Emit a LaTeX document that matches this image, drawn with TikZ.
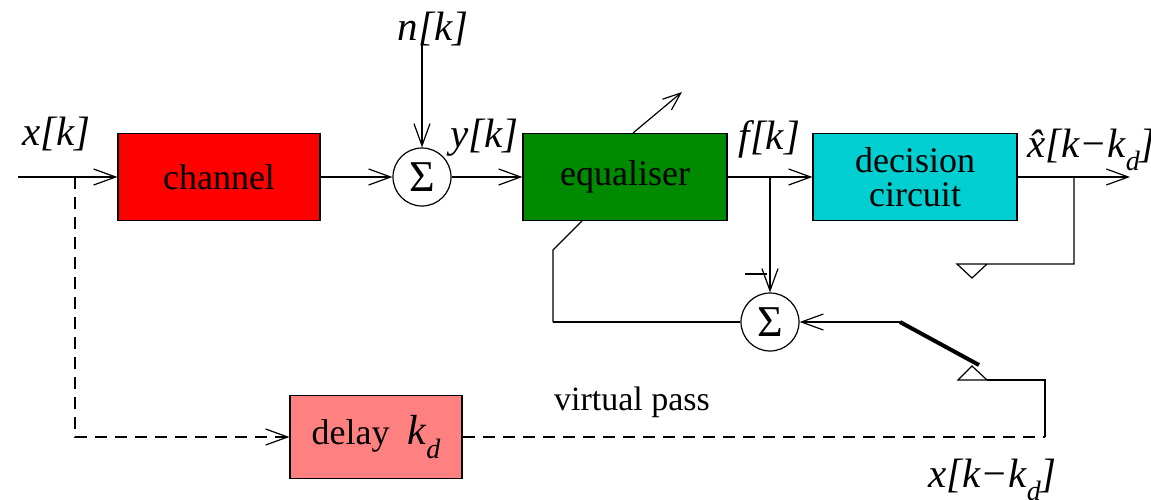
\documentclass[tikz,border=0pt]{standalone}
\usepackage{fontspec}
\setmainfont{Liberation Serif}
\usetikzlibrary{arrows.meta}
% lowered subscript "d" as in k_d
\newcommand\mysubd{\raisebox{-0.32em}{\fontsize{28}{28}\selectfont d}}
\begin{document}
\begin{tikzpicture}[x=1pt,y=-1pt,
  line width=1.2pt,
  >={Straight Barb[length=22pt,width=16pt,line width=1.2pt]},
  blockbox/.style={draw, line width=1.2pt, inner sep=0pt,
    font=\fontsize{36}{36}\selectfont, align=center},
  sumnode/.style={circle, draw, fill=white, minimum size=58pt, inner sep=0pt,
    font=\fontsize{44}{44}\selectfont},
  lbl/.style={font=\fontsize{41}{41}\selectfont\itshape, inner sep=0pt},
  plain/.style={font=\fontsize{34}{34}\selectfont, inner sep=0pt},
  dashline/.style={dash pattern=on 12pt off 8pt}]
\useasboundingbox (0,0) rectangle (1151,499);

% feedback line of the adaptation path (partly hidden by the equaliser)
\draw (553,322) -- (553,250) -- (582,221);

% blocks
\node[blockbox, fill=red, minimum width=202pt, minimum height=87pt] (chan) at (219,177) {channel};
\node[blockbox, fill={rgb,255:red,0;green,138;blue,0}, minimum width=204pt, minimum height=87pt] (eq) at (625,177) {equaliser};
\node[blockbox, fill={rgb,255:red,0;green,206;blue,209}, minimum width=204pt, minimum height=87pt, text depth=0pt] (dec) at (915,177) {decision\\[-2pt]circuit};
\node[blockbox, fill={rgb,255:red,255;green,128;blue,128}, minimum width=172pt, minimum height=83pt] (delay) at (376,437)
  {delay~~{\fontsize{42}{42}\selectfont\itshape k\mysubd}};

% summing junctions
\node[sumnode] (sum1) at (422,177) {Σ};
\node[sumnode] (sum2) at (770,322) {Σ};

% coordinates of free ends and branch points
\coordinate (xin) at (18,177);
\coordinate (tapin) at (75,177);
\coordinate (noise) at (422,45);
\coordinate (tapf) at (770,177);
\coordinate (xout) at (1130,177);
\coordinate (tapout) at (1074,177);
\coordinate (swpivot) at (900,322);
\coordinate (swend) at (979,365);
\coordinate (adapt) at (682,92);

% forward path
\draw[->] (xin) -- (chan.west);
\draw[->] (chan.east) -- (sum1.west);
\draw[->] (noise) -- (sum1.north);
\draw[->] (sum1.east) -- (eq.west);
\draw[->] (eq.east) -- (dec.west);
\draw[->] (dec.east) -- (xout);

% adaptation arrow through the equaliser
\draw[->, >={Straight Barb[length=18pt,width=14pt,line width=1.2pt]}] (633,133) -- (adapt);

% error computation
\draw[->] (tapf) -- (sum2.north);
\draw (745,274) -- (767,274);
\draw[->] (swpivot) -- (sum2.east);
\draw (sum2.west) -- (553,322);

% decision feedback contact
\draw (tapout) -- (1074,264) -- (987,264) -- (972,278) -- (957,264) -- (987,264);

% switch
\draw[line width=4pt] (swpivot) -- (swend);

% training contact
\draw (958,380) -- (987,380) -- (972,366) -- cycle;
\draw (987,380) -- (1045,380) -- (1045,437);

% virtual training path
\draw[dashline, ->] (tapin) -- (75,437) -- (delay.west);
\draw[dashline] (delay.east) -- (1045,437);

% labels
\node[lbl, anchor=base west] (lx) at (22,145) {x[k]};
\node[lbl, anchor=base west] (ln) at (397,40) {n[k]};
\node[lbl, anchor=base west] (ly) at (450,147) {y[k]};
\node[lbl, anchor=base west] (lf) at (738,149) {f[k]};
\node[lbl, anchor=base west] (lxh) at (1027,157) {\^{x}[k−k\mysubd]};
\node[lbl, anchor=base west] (lxd) at (928,487) {x[k−k\mysubd]};
\node[plain, anchor=base] (lv) at (632,410) {virtual pass};
\end{tikzpicture}
\end{document}
